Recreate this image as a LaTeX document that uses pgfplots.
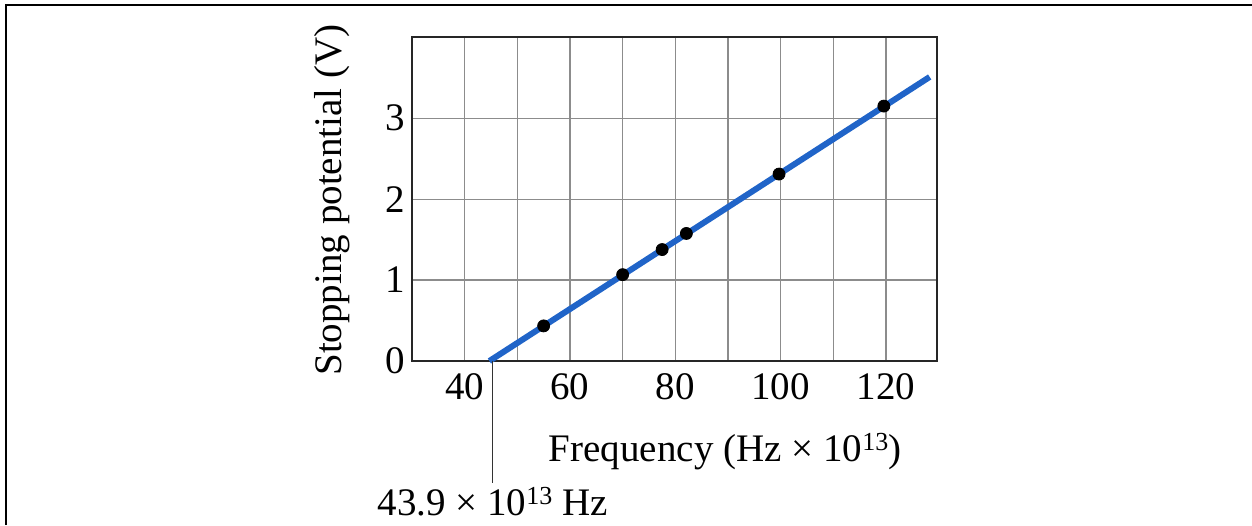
\documentclass[border=0pt]{standalone}
\usepackage{pgfplots}
\pgfplotsset{compat=1.18}
\usepackage{fontspec}
\setmainfont{Liberation Serif}
\definecolor{fitblue}{RGB}{32,100,200}
\newcommand\bigf{\fontsize{19.5}{23}\selectfont}
\newcommand\sups[1]{\raisebox{5.5pt}{\fontsize{13}{13}\selectfont #1}}
\begin{document}
\begin{tikzpicture}
\useasboundingbox (-206pt,-82pt) rectangle (420pt,180.5pt);
\draw[line width=1pt] (-202.75pt,-82pt) -- (-202.75pt,178pt) -- (420pt,178pt);
\begin{axis}[
  at={(0,0)}, anchor=south west, scale only axis,
  width=262.25pt, height=161.85pt,
  xmin=30, xmax=129.6, ymin=0, ymax=4,
  xtick={40,60,...,120}, minor xtick={50,70,90,110},
  ytick={0,1,2,3},
  grid=both,
  major grid style={black!45, line width=0.6pt},
  minor grid style={black!45, line width=0.6pt},
  major tick length=0pt, minor tick length=0pt,
  axis line style={black!85, line width=1pt},
  /pgf/number format/assume math mode=true,
  tick label style={font=\bigf},
  xticklabel style={yshift=-2.5pt},
  xlabel={Frequency (Hz × 10\sups{13})},
  xlabel style={at={(axis description cs:0.597,-0.311)}, anchor=base, font=\bigf},
  ylabel={Stopping potential (V)},
  ylabel style={at={(axis description cs:-0.1525,0.497)}, anchor=center, font=\bigf},
  clip=false,
]
\addplot[fitblue, line width=3pt] coordinates {(44.7,0) (128.3,3.51)};
\addplot[only marks, mark=*, mark size=3pt, black] coordinates {
  (55.0,0.434) (70.0,1.067) (77.5,1.377) (82.1,1.576) (99.7,2.31) (119.6,3.15)
};
\draw[black!80, line width=0.6pt] (axis cs:45.3,0) -- (axis cs:45.3,-1.51);
\node[anchor=base, font=\bigf, inner sep=0pt] at (axis cs:45.3,-1.91) {43.9 × 10\sups{13} Hz};
\end{axis}
\end{tikzpicture}
\end{document}
